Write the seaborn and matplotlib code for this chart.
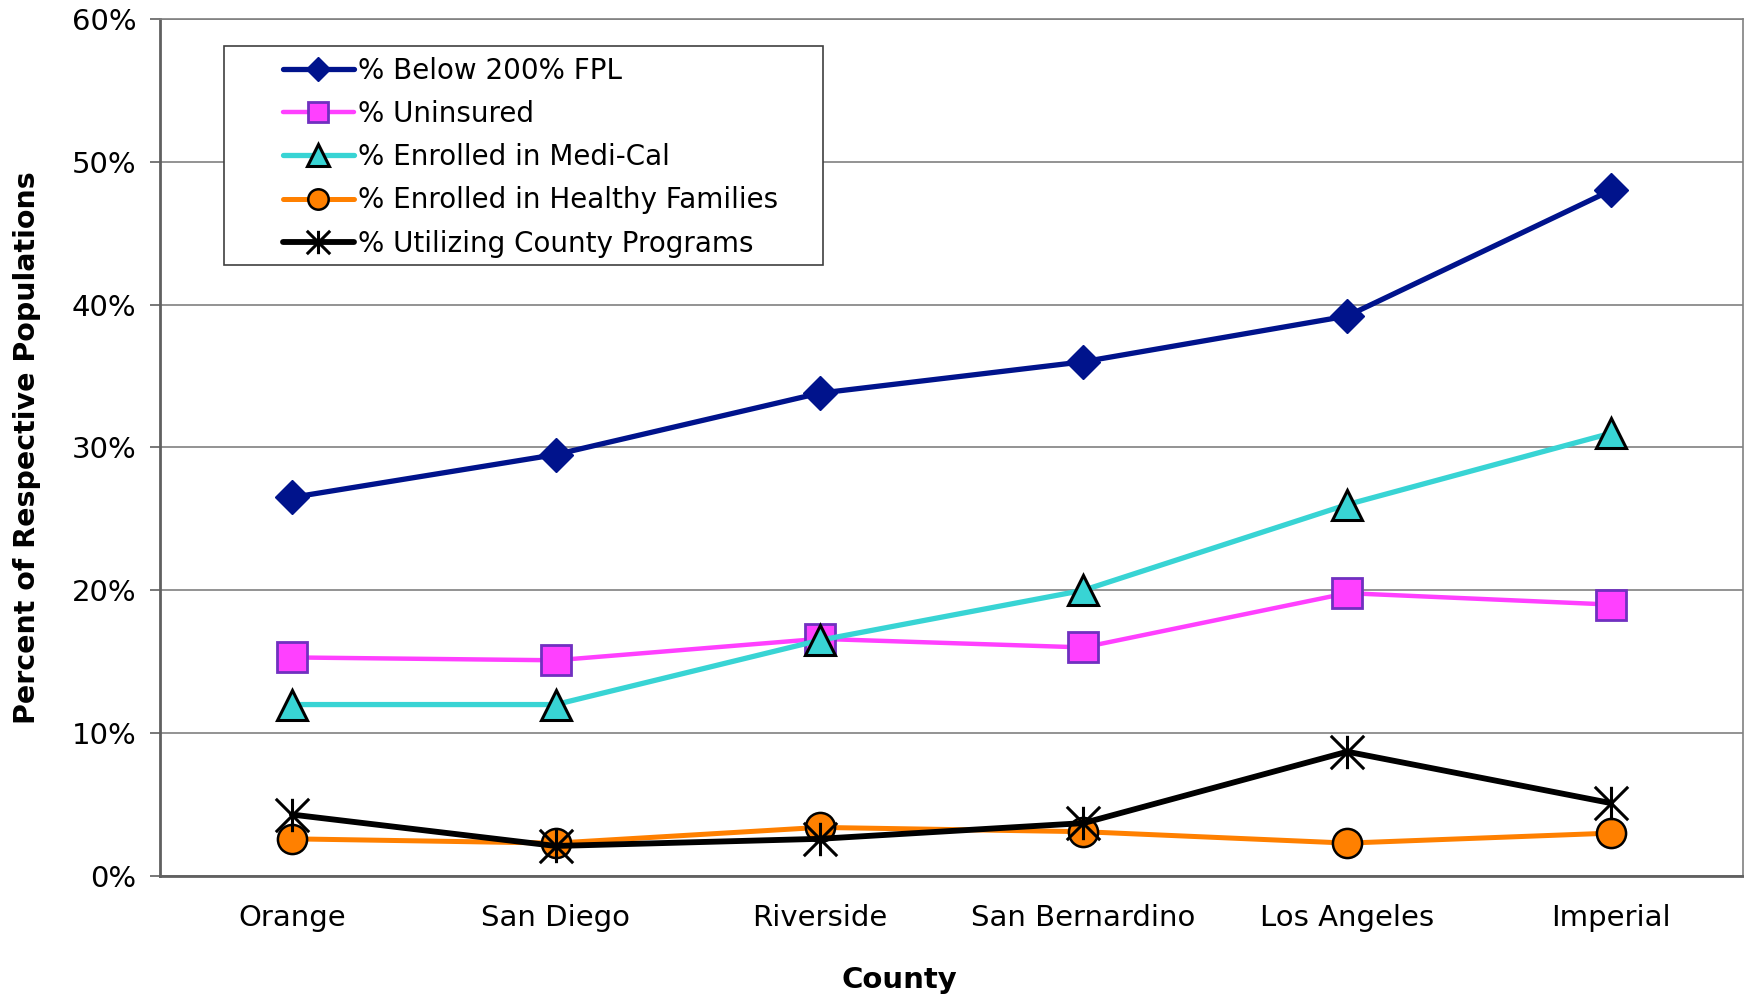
import numpy as np
import pandas as pd
import matplotlib
matplotlib.use("Agg")
import matplotlib.pyplot as plt
import seaborn as sns
from matplotlib.path import Path
from matplotlib.patches import Rectangle
from matplotlib.ticker import PercentFormatter, FixedLocator

# ---- data (percent of respective populations) ----
counties = ["Orange", "San Diego", "Riverside", "San Bernardino", "Los Angeles", "Imperial"]
below_fpl = [26.5, 29.5, 33.8, 36.0, 39.2, 48.0]
uninsured = [15.3, 15.1, 16.6, 16.0, 19.8, 19.0]
medi_cal = [12.0, 12.0, 16.5, 20.0, 26.0, 31.0]
healthy_families = [2.6, 2.3, 3.4, 3.1, 2.3, 3.0]
county_programs = [4.3, 2.1, 2.6, 3.7, 8.7, 5.1]

series_labels = [
    "% Below 200% FPL",
    "% Uninsured",
    "% Enrolled in Medi-Cal",
    "% Enrolled in Healthy Families",
    "% Utilizing County Programs",
]
y_ticks = [0, 10, 20, 30, 40, 50, 60]

sns.set_style("white")
plt.rcParams["font.family"] = ["DejaVu Sans"]
plt.rcParams["text.color"] = "black"
plt.rcParams["axes.labelcolor"] = "black"
plt.rcParams["xtick.color"] = "black"
plt.rcParams["ytick.color"] = "black"

# Excel-style asterisk: vertical bar plus an X
asterisk = Path(
    [(0, -1), (0, 1), (-1, -1), (1, 1), (-1, 1), (1, -1)],
    [Path.MOVETO, Path.LINETO, Path.MOVETO, Path.LINETO, Path.MOVETO, Path.LINETO],
)

styles = [
    dict(color="#00138C", marker="D", markersize=17, markerfacecolor="#00138C",
         markeredgecolor="#00138C", markeredgewidth=1, linewidth=3.8),
    dict(color="#FF40FF", marker="s", markersize=21, markerfacecolor="#FF40FF",
         markeredgecolor="#7030C0", markeredgewidth=2, linewidth=3.2),
    dict(color="#38D4D4", marker="^", markersize=22, markerfacecolor="#38D4D4",
         markeredgecolor="black", markeredgewidth=2.2, linewidth=3.8),
    dict(color="#FF8000", marker="o", markersize=21, markerfacecolor="#FF8000",
         markeredgecolor="black", markeredgewidth=1.8, linewidth=3.6),
    dict(color="black", marker=asterisk, markersize=24, markerfacecolor="none",
         markeredgecolor="black", markeredgewidth=2.2, linewidth=4.2),
]
all_values = [below_fpl, uninsured, medi_cal, healthy_families, county_programs]

fig, ax = plt.subplots(figsize=(17.44, 9.97), dpi=100)
fig.subplots_adjust(left=0.0917, right=0.9994, bottom=0.1214, top=0.981)

for label, values, st in zip(series_labels, all_values, styles):
    df = pd.DataFrame({"County": counties, "Pct": values})
    sns.lineplot(data=df, x="County", y="Pct", sort=False, errorbar=None,
                 label=label, ax=ax, zorder=4, clip_on=False, **st)

ax.set_xlim(-0.5, len(counties) - 0.5)
ax.set_ylim(0, 60)
ax.yaxis.set_major_locator(FixedLocator(y_ticks))
ax.yaxis.set_major_formatter(PercentFormatter(decimals=0))
ax.yaxis.grid(True, color="#808080", linewidth=1.2)
ax.set_axisbelow(True)

# category labels centred, tick marks between categories
ax.set_xticks(range(len(counties)))
ax.set_xticklabels(counties)
ax.set_xticks(np.arange(-0.5, len(counties)), minor=True)
ax.tick_params(axis="x", which="major", length=0, pad=20, labelsize=21)
ax.tick_params(axis="x", which="minor", length=7, width=1.2, color="#606060", direction="out")
ax.tick_params(axis="y", length=7, width=1.2, color="#606060", pad=10, labelsize=21, direction="out", left=True)

for side in ["left", "bottom"]:
    ax.spines[side].set_color("#606060")
    ax.spines[side].set_linewidth(2)
for side in ["top", "right"]:
    ax.spines[side].set_color("#808080")
    ax.spines[side].set_linewidth(1.2)

ax.set_xlabel("County", fontsize=21, fontweight="bold")
ax.xaxis.set_label_coords(0.467, -0.105)
ax.set_ylabel("Percent of Respective Populations", fontsize=20.5, fontweight="bold")
ax.yaxis.set_label_coords(-0.075, 0.5)

# legend box drawn like the Excel one
ax.add_patch(Rectangle((0.0404, 0.713), 0.3784, 0.2555, transform=ax.transAxes,
                       facecolor="white", edgecolor="#404040", linewidth=1.2, zorder=5))
leg = ax.legend(loc="upper left", bbox_to_anchor=(0.0777, 0.956), frameon=False,
                fontsize=20, handlelength=2.55, handletextpad=0.15, labelspacing=0.55,
                borderpad=0, borderaxespad=0, markerscale=0.7)
leg.set_zorder(6)

fig.savefig("out.png", dpi=100)
